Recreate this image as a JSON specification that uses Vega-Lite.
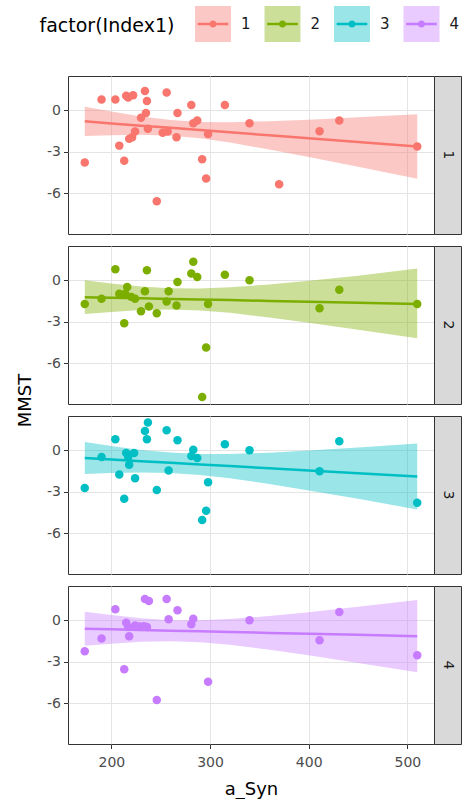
{
  "$schema": "https://vega.github.io/schema/vega-lite/v6.json",
  "autosize": {"type": "pad"},
  "padding": {"left": 15, "top": 5, "right": 0, "bottom": 0},
  "bounds": "flush",
  "columns": 2,
  "spacing": {"row": 12, "column": 0},
  "datasets": {
    "pts": [
      {"Index1": 1, "a_Syn": 173, "MMST": -3.78}, {"Index1": 1, "a_Syn": 190, "MMST": 0.78}, {"Index1": 1, "a_Syn": 204, "MMST": 0.78},
      {"Index1": 1, "a_Syn": 215, "MMST": 1.05}, {"Index1": 1, "a_Syn": 217, "MMST": 0.93}, {"Index1": 1, "a_Syn": 222, "MMST": 1.1},
      {"Index1": 1, "a_Syn": 234, "MMST": 1.41}, {"Index1": 1, "a_Syn": 236, "MMST": 0.68}, {"Index1": 1, "a_Syn": 256, "MMST": 1.29},
      {"Index1": 1, "a_Syn": 281, "MMST": 0.39}, {"Index1": 1, "a_Syn": 315, "MMST": 0.39}, {"Index1": 1, "a_Syn": 267, "MMST": -0.2},
      {"Index1": 1, "a_Syn": 235, "MMST": -0.2}, {"Index1": 1, "a_Syn": 230, "MMST": -0.54}, {"Index1": 1, "a_Syn": 208, "MMST": -2.56},
      {"Index1": 1, "a_Syn": 213, "MMST": -3.66}, {"Index1": 1, "a_Syn": 218, "MMST": -2.07}, {"Index1": 1, "a_Syn": 221, "MMST": -1.95},
      {"Index1": 1, "a_Syn": 224, "MMST": -1.54}, {"Index1": 1, "a_Syn": 237, "MMST": -1.34}, {"Index1": 1, "a_Syn": 252, "MMST": -1.63},
      {"Index1": 1, "a_Syn": 257, "MMST": -1.54}, {"Index1": 1, "a_Syn": 266, "MMST": -1.95}, {"Index1": 1, "a_Syn": 283, "MMST": -0.93},
      {"Index1": 1, "a_Syn": 287, "MMST": -0.73}, {"Index1": 1, "a_Syn": 298, "MMST": -1.71}, {"Index1": 1, "a_Syn": 292, "MMST": -3.54},
      {"Index1": 1, "a_Syn": 296, "MMST": -4.95}, {"Index1": 1, "a_Syn": 246, "MMST": -6.59}, {"Index1": 1, "a_Syn": 340, "MMST": -0.93},
      {"Index1": 1, "a_Syn": 370, "MMST": -5.37}, {"Index1": 1, "a_Syn": 411, "MMST": -1.51}, {"Index1": 1, "a_Syn": 431, "MMST": -0.73},
      {"Index1": 1, "a_Syn": 510, "MMST": -2.63},
      {"Index1": 2, "a_Syn": 173, "MMST": -1.71}, {"Index1": 2, "a_Syn": 190, "MMST": -1.34}, {"Index1": 2, "a_Syn": 204, "MMST": 0.8},
      {"Index1": 2, "a_Syn": 208, "MMST": -0.98}, {"Index1": 2, "a_Syn": 213, "MMST": -3.12}, {"Index1": 2, "a_Syn": 216, "MMST": -0.49},
      {"Index1": 2, "a_Syn": 214, "MMST": -0.98}, {"Index1": 2, "a_Syn": 224, "MMST": -1.34}, {"Index1": 2, "a_Syn": 230, "MMST": -2.24},
      {"Index1": 2, "a_Syn": 234, "MMST": -0.8}, {"Index1": 2, "a_Syn": 236, "MMST": 0.73}, {"Index1": 2, "a_Syn": 238, "MMST": -1.9},
      {"Index1": 2, "a_Syn": 246, "MMST": -2.39}, {"Index1": 2, "a_Syn": 256, "MMST": -1.54}, {"Index1": 2, "a_Syn": 258, "MMST": -0.8},
      {"Index1": 2, "a_Syn": 266, "MMST": -1.83}, {"Index1": 2, "a_Syn": 267, "MMST": -0.12}, {"Index1": 2, "a_Syn": 281, "MMST": 0.49},
      {"Index1": 2, "a_Syn": 283, "MMST": 1.34}, {"Index1": 2, "a_Syn": 287, "MMST": 0.24}, {"Index1": 2, "a_Syn": 292, "MMST": -8.46},
      {"Index1": 2, "a_Syn": 296, "MMST": -4.88}, {"Index1": 2, "a_Syn": 298, "MMST": -1.71}, {"Index1": 2, "a_Syn": 315, "MMST": 0.41},
      {"Index1": 2, "a_Syn": 340, "MMST": 0.0}, {"Index1": 2, "a_Syn": 411, "MMST": -2.02}, {"Index1": 2, "a_Syn": 431, "MMST": -0.68},
      {"Index1": 2, "a_Syn": 510, "MMST": -1.71}, {"Index1": 2, "a_Syn": 220, "MMST": -1.2},
      {"Index1": 3, "a_Syn": 173, "MMST": -2.73}, {"Index1": 3, "a_Syn": 190, "MMST": -0.49}, {"Index1": 3, "a_Syn": 204, "MMST": 0.8},
      {"Index1": 3, "a_Syn": 208, "MMST": -1.76}, {"Index1": 3, "a_Syn": 213, "MMST": -3.51}, {"Index1": 3, "a_Syn": 215, "MMST": -0.2},
      {"Index1": 3, "a_Syn": 217, "MMST": -0.49}, {"Index1": 3, "a_Syn": 218, "MMST": -1.05}, {"Index1": 3, "a_Syn": 223, "MMST": -0.2},
      {"Index1": 3, "a_Syn": 224, "MMST": -2.02}, {"Index1": 3, "a_Syn": 234, "MMST": 1.41}, {"Index1": 3, "a_Syn": 237, "MMST": 2.02},
      {"Index1": 3, "a_Syn": 236, "MMST": 0.8}, {"Index1": 3, "a_Syn": 246, "MMST": -2.88}, {"Index1": 3, "a_Syn": 256, "MMST": 1.46},
      {"Index1": 3, "a_Syn": 258, "MMST": -1.46}, {"Index1": 3, "a_Syn": 267, "MMST": 0.73}, {"Index1": 3, "a_Syn": 281, "MMST": -0.41},
      {"Index1": 3, "a_Syn": 283, "MMST": 0.05}, {"Index1": 3, "a_Syn": 287, "MMST": -0.56}, {"Index1": 3, "a_Syn": 292, "MMST": -5.05},
      {"Index1": 3, "a_Syn": 296, "MMST": -4.39}, {"Index1": 3, "a_Syn": 298, "MMST": -2.32}, {"Index1": 3, "a_Syn": 315, "MMST": 0.44},
      {"Index1": 3, "a_Syn": 340, "MMST": 0.0}, {"Index1": 3, "a_Syn": 411, "MMST": -1.51}, {"Index1": 3, "a_Syn": 431, "MMST": 0.66},
      {"Index1": 3, "a_Syn": 510, "MMST": -3.8},
      {"Index1": 4, "a_Syn": 173, "MMST": -2.24}, {"Index1": 4, "a_Syn": 190, "MMST": -1.32}, {"Index1": 4, "a_Syn": 204, "MMST": 0.8},
      {"Index1": 4, "a_Syn": 213, "MMST": -3.54}, {"Index1": 4, "a_Syn": 215, "MMST": -0.17}, {"Index1": 4, "a_Syn": 218, "MMST": -1.15},
      {"Index1": 4, "a_Syn": 217, "MMST": -0.49}, {"Index1": 4, "a_Syn": 224, "MMST": -0.37}, {"Index1": 4, "a_Syn": 230, "MMST": -0.49},
      {"Index1": 4, "a_Syn": 234, "MMST": 1.54}, {"Index1": 4, "a_Syn": 238, "MMST": 1.41}, {"Index1": 4, "a_Syn": 236, "MMST": -0.49},
      {"Index1": 4, "a_Syn": 246, "MMST": -5.78}, {"Index1": 4, "a_Syn": 256, "MMST": 1.54}, {"Index1": 4, "a_Syn": 258, "MMST": 0.07},
      {"Index1": 4, "a_Syn": 267, "MMST": 0.73}, {"Index1": 4, "a_Syn": 281, "MMST": -0.29}, {"Index1": 4, "a_Syn": 283, "MMST": 0.12},
      {"Index1": 4, "a_Syn": 298, "MMST": -4.46}, {"Index1": 4, "a_Syn": 340, "MMST": 0.0}, {"Index1": 4, "a_Syn": 411, "MMST": -1.44},
      {"Index1": 4, "a_Syn": 431, "MMST": 0.61}, {"Index1": 4, "a_Syn": 510, "MMST": -2.54}, {"Index1": 4, "a_Syn": 228, "MMST": -0.45},
      {"Index1": 4, "a_Syn": 233, "MMST": -0.42}
    ],
    "band": [
      {"Index1": 1, "a_Syn": 173, "fit": -0.8, "lo": -1.86, "hi": 0.26}, {"Index1": 1, "a_Syn": 200, "fit": -0.947, "lo": -1.8, "hi": -0.09},
      {"Index1": 1, "a_Syn": 230, "fit": -1.11, "lo": -1.78, "hi": -0.44}, {"Index1": 1, "a_Syn": 260, "fit": -1.27, "lo": -1.84, "hi": -0.71},
      {"Index1": 1, "a_Syn": 290, "fit": -1.435, "lo": -2.03, "hi": -0.84}, {"Index1": 1, "a_Syn": 320, "fit": -1.598, "lo": -2.34, "hi": -0.86},
      {"Index1": 1, "a_Syn": 360, "fit": -1.815, "lo": -2.84, "hi": -0.79}, {"Index1": 1, "a_Syn": 400, "fit": -2.03, "lo": -3.39, "hi": -0.68},
      {"Index1": 1, "a_Syn": 450, "fit": -2.3, "lo": -4.1, "hi": -0.51}, {"Index1": 1, "a_Syn": 510, "fit": -2.63, "lo": -4.97, "hi": -0.29},
      {"Index1": 2, "a_Syn": 173, "fit": -1.22, "lo": -2.44, "hi": 0.0}, {"Index1": 2, "a_Syn": 200, "fit": -1.259, "lo": -2.29, "hi": -0.23},
      {"Index1": 2, "a_Syn": 230, "fit": -1.303, "lo": -2.16, "hi": -0.44}, {"Index1": 2, "a_Syn": 260, "fit": -1.346, "lo": -2.12, "hi": -0.57},
      {"Index1": 2, "a_Syn": 290, "fit": -1.39, "lo": -2.19, "hi": -0.59}, {"Index1": 2, "a_Syn": 320, "fit": -1.434, "lo": -2.36, "hi": -0.5},
      {"Index1": 2, "a_Syn": 360, "fit": -1.492, "lo": -2.69, "hi": -0.3}, {"Index1": 2, "a_Syn": 400, "fit": -1.55, "lo": -3.07, "hi": -0.03},
      {"Index1": 2, "a_Syn": 450, "fit": -1.623, "lo": -3.59, "hi": 0.34}, {"Index1": 2, "a_Syn": 510, "fit": -1.71, "lo": -4.2, "hi": 0.86},
      {"Index1": 3, "a_Syn": 173, "fit": -0.56, "lo": -1.72, "hi": 0.6}, {"Index1": 3, "a_Syn": 200, "fit": -0.667, "lo": -1.64, "hi": 0.31},
      {"Index1": 3, "a_Syn": 230, "fit": -0.787, "lo": -1.61, "hi": 0.03}, {"Index1": 3, "a_Syn": 260, "fit": -0.906, "lo": -1.65, "hi": -0.16},
      {"Index1": 3, "a_Syn": 290, "fit": -1.025, "lo": -1.79, "hi": -0.26}, {"Index1": 3, "a_Syn": 320, "fit": -1.144, "lo": -2.03, "hi": -0.26},
      {"Index1": 3, "a_Syn": 360, "fit": -1.304, "lo": -2.44, "hi": -0.17}, {"Index1": 3, "a_Syn": 400, "fit": -1.463, "lo": -2.91, "hi": -0.02},
      {"Index1": 3, "a_Syn": 450, "fit": -1.661, "lo": -3.52, "hi": 0.2}, {"Index1": 3, "a_Syn": 510, "fit": -1.9, "lo": -4.29, "hi": 0.49},
      {"Index1": 4, "a_Syn": 173, "fit": -0.61, "lo": -1.85, "hi": 0.63}, {"Index1": 4, "a_Syn": 200, "fit": -0.653, "lo": -1.69, "hi": 0.38},
      {"Index1": 4, "a_Syn": 230, "fit": -0.701, "lo": -1.56, "hi": 0.15}, {"Index1": 4, "a_Syn": 260, "fit": -0.749, "lo": -1.51, "hi": 0.01},
      {"Index1": 4, "a_Syn": 290, "fit": -0.797, "lo": -1.59, "hi": 0.0}, {"Index1": 4, "a_Syn": 320, "fit": -0.845, "lo": -1.78, "hi": 0.09},
      {"Index1": 4, "a_Syn": 360, "fit": -0.91, "lo": -2.13, "hi": 0.31}, {"Index1": 4, "a_Syn": 400, "fit": -0.974, "lo": -2.54, "hi": 0.59},
      {"Index1": 4, "a_Syn": 450, "fit": -1.054, "lo": -3.09, "hi": 0.98}, {"Index1": 4, "a_Syn": 510, "fit": -1.15, "lo": -3.77, "hi": 1.47}
    ],
    "keys": [{"Index1": 1, "row": "legend"}, {"Index1": 2, "row": "legend"}, {"Index1": 3, "row": "legend"}, {"Index1": 4, "row": "legend"}]
  },
  "concat": [
    {
      "width": 366, "height": 58,
      "data": {"name": "keys"},
      "view": {"stroke": null},
      "encoding": {
        "x": {"field": "Index1", "type": "quantitative", "scale": {"domain": [-1.086, 4.18], "nice": false, "zero": false}, "axis": null},
        "y": {"field": "row", "type": "nominal", "scale": {"type": "band", "paddingInner": 0, "paddingOuter": 0.3056, "align": 0},
              "axis": {"title": "factor(Index1)", "titleAngle": 0, "titleX": -29, "titleY": 19, "titleAlign": "left", "titleBaseline": "middle",
                       "titleFontSize": 19, "titleColor": "#000000", "labels": false, "ticks": false, "domain": false, "grid": false}},
        "color": {"field": "Index1", "type": "nominal", "scale": {"domain": [1, 2, 3, 4], "range": ["#F8766D", "#7CAE00", "#00BFC4", "#C77CFF"]}, "legend": null}
      },
      "layer": [
        {"mark": {"type": "point", "shape": "square", "size": 1296, "filled": true, "opacity": 0.4, "strokeWidth": 0}},
        {"mark": {"type": "point", "shape": "M-0.85,-0.07L0.85,-0.07L0.85,0.07L-0.85,0.07Z M-0.2,0 A0.2,0.2 0 1,1 0.2,0 A0.2,0.2 0 1,1 -0.2,0 Z", "size": 1296, "filled": true, "opacity": 1, "strokeWidth": 0}},
        {"mark": {"type": "text", "dx": 28, "align": "left", "baseline": "middle", "font": "DejaVu Sans", "fontSize": 15, "color": "#1A1A1A"},
         "encoding": {"text": {"field": "Index1", "type": "nominal"}, "color": {"value": "#1A1A1A"}}}
      ]
    },
    {
      "width": 27, "height": 58,
      "data": {"values": [{"t": ""}]},
      "view": {"stroke": null},
      "mark": {"type": "text"},
      "encoding": {"text": {"field": "t", "type": "nominal"}}
    },
    {
      "width": 366, "height": 158,
      "resolve": {"axis": {"x": "independent", "y": "independent"}},
      "layer": [
        {"data": {"name": "band"}, "transform": [{"filter": "datum.Index1 == 1"}],
         "mark": {"type": "area", "opacity": 0.4},
         "encoding": {
           "x": {"field": "a_Syn", "type": "quantitative", "scale": {"domain": [156, 527], "nice": false, "zero": false},
                 "axis": {"orient": "bottom", "values": [200, 300, 400, 500], "labels": false, "ticks": false, "title": null, "gridWidth": 1}},
           "y": {"field": "lo", "type": "quantitative", "scale": {"domain": [-8.97, 2.49], "nice": false, "zero": false},
                 "axis": {"orient": "left", "values": [-6, -3, 0], "title": null, "labelOverlap": false, "labelExpr": "toString(datum.value)", "gridWidth": 1}},
           "y2": {"field": "hi"},
           "color": {"field": "Index1", "type": "nominal", "legend": null}
         }},
        {"data": {"name": "band"}, "transform": [{"filter": "datum.Index1 == 1"}],
         "mark": {"type": "line", "strokeWidth": 2.5},
         "encoding": {
           "x": {"field": "a_Syn", "type": "quantitative", "axis": {"orient": "bottom", "values": [250, 350, 450], "labels": false, "ticks": false, "title": null, "gridWidth": 0.5}},
           "y": {"field": "fit", "type": "quantitative", "axis": {"orient": "left", "values": [-7.5, -4.5, -1.5, 1.5], "labels": false, "ticks": false, "title": null, "gridWidth": 0.5}},
           "color": {"field": "Index1", "type": "nominal", "legend": null}}},
        {"data": {"name": "pts"}, "transform": [{"filter": "datum.Index1 == 1"}],
         "mark": {"type": "circle", "size": 72, "opacity": 1},
         "encoding": {"x": {"field": "a_Syn", "type": "quantitative", "axis": null}, "y": {"field": "MMST", "type": "quantitative", "axis": null}, "color": {"field": "Index1", "type": "nominal", "legend": null}}}
      ]
    },
    {
      "width": 27, "height": 158,
      "data": {"name": "keys"}, "transform": [{"filter": "datum.Index1 == 1"}],
      "view": {"fill": "#D9D9D9", "stroke": "#333333"},
      "mark": {"type": "text", "angle": 90, "fontSize": 14, "font": "DejaVu Sans", "color": "#1A1A1A", "align": "center", "baseline": "middle"},
      "encoding": {"text": {"field": "Index1", "type": "nominal"}}
    },
    {
      "width": 366, "height": 158,
      "resolve": {"axis": {"x": "independent", "y": "independent"}},
      "layer": [
        {"data": {"name": "band"}, "transform": [{"filter": "datum.Index1 == 2"}],
         "mark": {"type": "area", "opacity": 0.4},
         "encoding": {
           "x": {"field": "a_Syn", "type": "quantitative", "scale": {"domain": [156, 527], "nice": false, "zero": false},
                 "axis": {"orient": "bottom", "values": [200, 300, 400, 500], "labels": false, "ticks": false, "title": null, "gridWidth": 1}},
           "y": {"field": "lo", "type": "quantitative", "scale": {"domain": [-8.97, 2.49], "nice": false, "zero": false},
                 "axis": {"orient": "left", "values": [-6, -3, 0], "title": "MMST", "titleX": -43, "titleY": 154, "titleAngle": -90, "titleAlign": "center", "titleBaseline": "middle", "labelOverlap": false, "labelExpr": "toString(datum.value)", "gridWidth": 1}},
           "y2": {"field": "hi"},
           "color": {"field": "Index1", "type": "nominal", "legend": null}
         }},
        {"data": {"name": "band"}, "transform": [{"filter": "datum.Index1 == 2"}],
         "mark": {"type": "line", "strokeWidth": 2.5},
         "encoding": {
           "x": {"field": "a_Syn", "type": "quantitative", "axis": {"orient": "bottom", "values": [250, 350, 450], "labels": false, "ticks": false, "title": null, "gridWidth": 0.5}},
           "y": {"field": "fit", "type": "quantitative", "axis": {"orient": "left", "values": [-7.5, -4.5, -1.5, 1.5], "labels": false, "ticks": false, "title": null, "gridWidth": 0.5}},
           "color": {"field": "Index1", "type": "nominal", "legend": null}}},
        {"data": {"name": "pts"}, "transform": [{"filter": "datum.Index1 == 2"}],
         "mark": {"type": "circle", "size": 72, "opacity": 1},
         "encoding": {"x": {"field": "a_Syn", "type": "quantitative", "axis": null}, "y": {"field": "MMST", "type": "quantitative", "axis": null}, "color": {"field": "Index1", "type": "nominal", "legend": null}}}
      ]
    },
    {
      "width": 27, "height": 158,
      "data": {"name": "keys"}, "transform": [{"filter": "datum.Index1 == 2"}],
      "view": {"fill": "#D9D9D9", "stroke": "#333333"},
      "mark": {"type": "text", "angle": 90, "fontSize": 14, "font": "DejaVu Sans", "color": "#1A1A1A", "align": "center", "baseline": "middle"},
      "encoding": {"text": {"field": "Index1", "type": "nominal"}}
    },
    {
      "width": 366, "height": 158,
      "resolve": {"axis": {"x": "independent", "y": "independent"}},
      "layer": [
        {"data": {"name": "band"}, "transform": [{"filter": "datum.Index1 == 3"}],
         "mark": {"type": "area", "opacity": 0.4},
         "encoding": {
           "x": {"field": "a_Syn", "type": "quantitative", "scale": {"domain": [156, 527], "nice": false, "zero": false},
                 "axis": {"orient": "bottom", "values": [200, 300, 400, 500], "labels": false, "ticks": false, "title": null, "gridWidth": 1}},
           "y": {"field": "lo", "type": "quantitative", "scale": {"domain": [-8.97, 2.49], "nice": false, "zero": false},
                 "axis": {"orient": "left", "values": [-6, -3, 0], "title": null, "labelOverlap": false, "labelExpr": "toString(datum.value)", "gridWidth": 1}},
           "y2": {"field": "hi"},
           "color": {"field": "Index1", "type": "nominal", "legend": null}
         }},
        {"data": {"name": "band"}, "transform": [{"filter": "datum.Index1 == 3"}],
         "mark": {"type": "line", "strokeWidth": 2.5},
         "encoding": {
           "x": {"field": "a_Syn", "type": "quantitative", "axis": {"orient": "bottom", "values": [250, 350, 450], "labels": false, "ticks": false, "title": null, "gridWidth": 0.5}},
           "y": {"field": "fit", "type": "quantitative", "axis": {"orient": "left", "values": [-7.5, -4.5, -1.5, 1.5], "labels": false, "ticks": false, "title": null, "gridWidth": 0.5}},
           "color": {"field": "Index1", "type": "nominal", "legend": null}}},
        {"data": {"name": "pts"}, "transform": [{"filter": "datum.Index1 == 3"}],
         "mark": {"type": "circle", "size": 72, "opacity": 1},
         "encoding": {"x": {"field": "a_Syn", "type": "quantitative", "axis": null}, "y": {"field": "MMST", "type": "quantitative", "axis": null}, "color": {"field": "Index1", "type": "nominal", "legend": null}}}
      ]
    },
    {
      "width": 27, "height": 158,
      "data": {"name": "keys"}, "transform": [{"filter": "datum.Index1 == 3"}],
      "view": {"fill": "#D9D9D9", "stroke": "#333333"},
      "mark": {"type": "text", "angle": 90, "fontSize": 14, "font": "DejaVu Sans", "color": "#1A1A1A", "align": "center", "baseline": "middle"},
      "encoding": {"text": {"field": "Index1", "type": "nominal"}}
    },
    {
      "width": 366, "height": 158,
      "resolve": {"axis": {"x": "independent", "y": "independent"}},
      "layer": [
        {"data": {"name": "band"}, "transform": [{"filter": "datum.Index1 == 4"}],
         "mark": {"type": "area", "opacity": 0.4},
         "encoding": {
           "x": {"field": "a_Syn", "type": "quantitative", "scale": {"domain": [156, 527], "nice": false, "zero": false},
                 "axis": {"orient": "bottom", "values": [200, 300, 400, 500], "title": "a_Syn", "titlePadding": 11, "labelPadding": 7, "labelOverlap": false, "labelExpr": "toString(datum.value)", "gridWidth": 1}},
           "y": {"field": "lo", "type": "quantitative", "scale": {"domain": [-8.97, 2.49], "nice": false, "zero": false},
                 "axis": {"orient": "left", "values": [-6, -3, 0], "title": null, "labelOverlap": false, "labelExpr": "toString(datum.value)", "gridWidth": 1}},
           "y2": {"field": "hi"},
           "color": {"field": "Index1", "type": "nominal", "legend": null}
         }},
        {"data": {"name": "band"}, "transform": [{"filter": "datum.Index1 == 4"}],
         "mark": {"type": "line", "strokeWidth": 2.5},
         "encoding": {
           "x": {"field": "a_Syn", "type": "quantitative", "axis": {"orient": "bottom", "values": [250, 350, 450], "labels": false, "ticks": false, "title": null, "gridWidth": 0.5}},
           "y": {"field": "fit", "type": "quantitative", "axis": {"orient": "left", "values": [-7.5, -4.5, -1.5, 1.5], "labels": false, "ticks": false, "title": null, "gridWidth": 0.5}},
           "color": {"field": "Index1", "type": "nominal", "legend": null}}},
        {"data": {"name": "pts"}, "transform": [{"filter": "datum.Index1 == 4"}],
         "mark": {"type": "circle", "size": 72, "opacity": 1},
         "encoding": {"x": {"field": "a_Syn", "type": "quantitative", "axis": null}, "y": {"field": "MMST", "type": "quantitative", "axis": null}, "color": {"field": "Index1", "type": "nominal", "legend": null}}}
      ]
    },
    {
      "width": 27, "height": 158,
      "data": {"name": "keys"}, "transform": [{"filter": "datum.Index1 == 4"}],
      "view": {"fill": "#D9D9D9", "stroke": "#333333"},
      "mark": {"type": "text", "angle": 90, "fontSize": 14, "font": "DejaVu Sans", "color": "#1A1A1A", "align": "center", "baseline": "middle"},
      "encoding": {"text": {"field": "Index1", "type": "nominal"}}
    }
  ],
  "config": {
    "view": {"stroke": "#333333", "strokeWidth": 1},
    "axis": {"gridColor": "#E4E4E4", "domain": false, "tickColor": "#333333", "tickSize": 4.5, "labelPadding": 3,
             "labelFont": "DejaVu Sans", "labelFontSize": 14, "labelColor": "#4D4D4D",
             "titleFont": "DejaVu Sans", "titleFontWeight": "normal", "titleColor": "#000000", "titleFontSize": 18}
  }
}
